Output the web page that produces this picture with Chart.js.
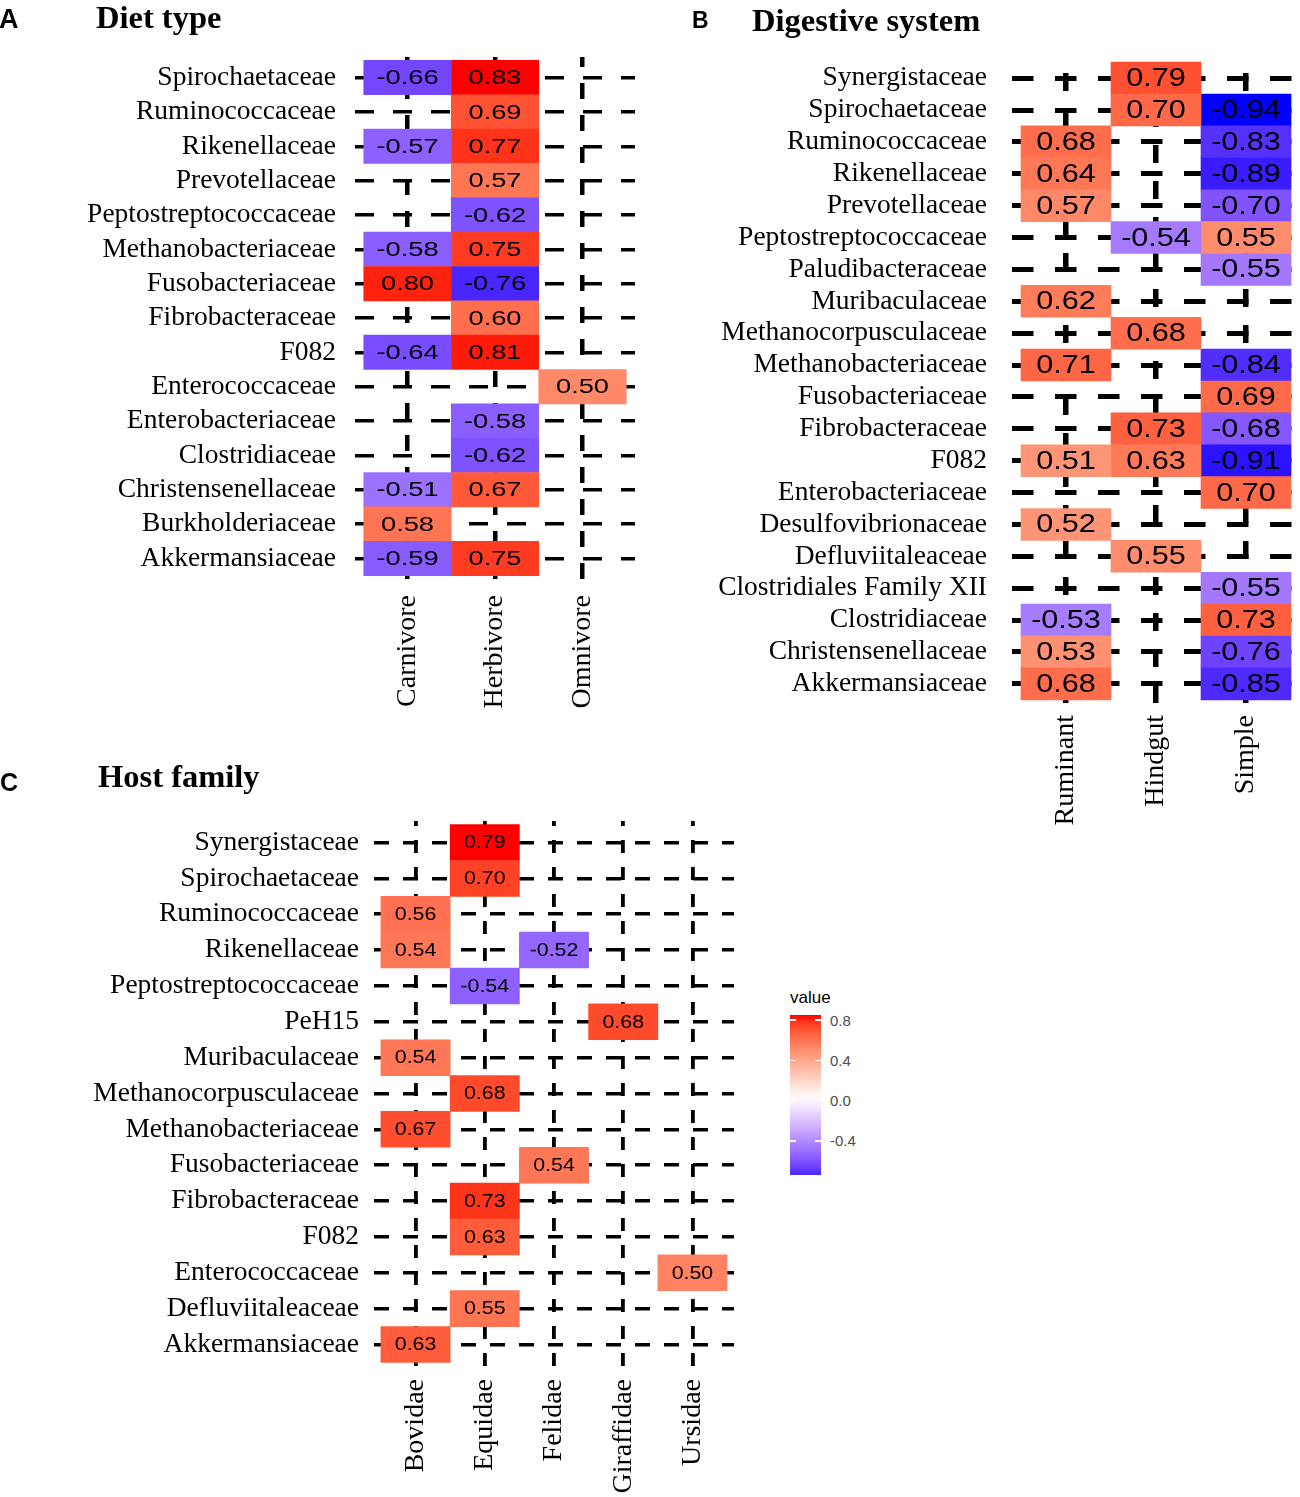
<!DOCTYPE html>
<html>
<head>
<meta charset="utf-8">
<script src="https://cdn.jsdelivr.net/npm/chart.js@4.4.1/dist/chart.umd.min.js"></script>
<style>
    body { margin: 0; background: #fff; width: 1300px; height: 1497px; position: relative; overflow: hidden; }
    canvas { position: absolute; }
    .tag { position: absolute; font-family: 'Liberation Sans', Arial, sans-serif; font-weight: bold; color: #000; }
    .ttl { position: absolute; font: bold 32.5px 'Liberation Serif', 'Times New Roman', serif; line-height: 32.5px; color: #000; white-space: nowrap; }
    .lg-title { position: absolute; font: 17px 'Liberation Sans', Arial, sans-serif; line-height: 17px; color: #000; }
    .lg-tick { position: absolute; font: 15px 'Liberation Sans', Arial, sans-serif; line-height: 15px; color: #4d4d4d; }
    .lg-mark { position: absolute; height: 1.5px; width: 6px; background: #fff; }
</style>
</head>
<body>
<canvas id="dietChart" width="650" height="720" style="left:0;top:0"></canvas>
<canvas id="digestChart" width="640" height="830" style="left:660px;top:0"></canvas>
<canvas id="hostChart" width="760" height="737" style="left:0;top:760px"></canvas>

<div class="tag" style="left:-1px;top:6px;font-size:27px;line-height:27px">A</div>
<div class="ttl" style="left:96px;top:1px">Diet type</div>
<div class="tag" style="left:692px;top:9px;font-size:23px;line-height:23px">B</div>
<div class="ttl" style="left:752px;top:4px">Digestive system</div>
<div class="tag" style="left:0;top:770px;font-size:25px;line-height:25px">C</div>
<div class="ttl" style="left:98px;top:760px">Host family</div>
<div id="legend"></div>

<script>
// ===== DATA: PANEL A (Diet type) =====
const dietRows = ['Spirochaetaceae', 'Ruminococcaceae', 'Rikenellaceae', 'Prevotellaceae',
    'Peptostreptococcaceae', 'Methanobacteriaceae', 'Fusobacteriaceae', 'Fibrobacteraceae',
    'F082', 'Enterococcaceae', 'Enterobacteriaceae', 'Clostridiaceae', 'Christensenellaceae',
    'Burkholderiaceae', 'Akkermansiaceae'];
const dietCols = ['Carnivore', 'Herbivore', 'Omnivore'];
const dietCarnivore = [-0.66, null, -0.57, null, null, -0.58, 0.80, null, -0.64, null, null, null, -0.51, 0.58, -0.59];
const dietHerbivore = [0.83, 0.69, 0.77, 0.57, -0.62, 0.75, -0.76, 0.60, 0.81, null, -0.58, -0.62, 0.67, null, 0.75];
const dietOmnivore = [null, null, null, null, null, null, null, null, null, 0.50, null, null, null, null, null];

// ===== DATA: PANEL B (Digestive system) =====
const digestRows = ['Synergistaceae', 'Spirochaetaceae', 'Ruminococcaceae', 'Rikenellaceae',
    'Prevotellaceae', 'Peptostreptococcaceae', 'Paludibacteraceae', 'Muribaculaceae',
    'Methanocorpusculaceae', 'Methanobacteriaceae', 'Fusobacteriaceae', 'Fibrobacteraceae',
    'F082', 'Enterobacteriaceae', 'Desulfovibrionaceae', 'Defluviitaleaceae',
    'Clostridiales Family XII', 'Clostridiaceae', 'Christensenellaceae', 'Akkermansiaceae'];
const digestCols = ['Ruminant', 'Hindgut', 'Simple'];
const digestRuminant = [null, null, 0.68, 0.64, 0.57, null, null, 0.62, null, 0.71, null, null, 0.51, null, 0.52, null, null, -0.53, 0.53, 0.68];
const digestHindgut = [0.79, 0.70, null, null, null, -0.54, null, null, 0.68, null, null, 0.73, 0.63, null, null, 0.55, null, null, null, null];
const digestSimple = [null, -0.94, -0.83, -0.89, -0.70, 0.55, -0.55, null, null, -0.84, 0.69, -0.68, -0.91, 0.70, null, null, -0.55, 0.73, -0.76, -0.85];

// ===== DATA: PANEL C (Host family) =====
const hostRows = ['Synergistaceae', 'Spirochaetaceae', 'Ruminococcaceae', 'Rikenellaceae',
    'Peptostreptococcaceae', 'PeH15', 'Muribaculaceae', 'Methanocorpusculaceae',
    'Methanobacteriaceae', 'Fusobacteriaceae', 'Fibrobacteraceae', 'F082',
    'Enterococcaceae', 'Defluviitaleaceae', 'Akkermansiaceae'];
const hostCols = ['Bovidae', 'Equidae', 'Felidae', 'Giraffidae', 'Ursidae'];
const hostBovidae = [null, null, 0.56, 0.54, null, null, 0.54, null, 0.67, null, null, null, null, null, 0.63];
const hostEquidae = [0.79, 0.70, null, null, -0.54, null, null, 0.68, null, null, 0.73, 0.63, null, 0.55, null];
const hostFelidae = [null, null, null, -0.52, null, null, null, null, null, 0.54, null, null, null, null, null];
const hostGiraffidae = [null, null, null, null, null, 0.68, null, null, null, null, null, null, null, null, null];
const hostUrsidae = [null, null, null, null, null, null, null, null, null, null, null, null, 0.50, null, null];

// ===== LEGEND =====
const legendTicks = [0.8, 0.4, 0.0, -0.4];

// ===== WARNA: gradien biru - putih - merah di ruang Lab =====
function toLin(c) { c /= 255; return c <= 0.04045 ? c / 12.92 : Math.pow((c + 0.055) / 1.055, 2.4); }
function rgbToLab(r, g, b) {
    const R = toLin(r), G = toLin(g), B = toLin(b);
    const X = (0.4124564 * R + 0.3575761 * G + 0.1804375 * B) / 0.95047;
    const Y = 0.2126729 * R + 0.7151522 * G + 0.0721750 * B;
    const Z = (0.0193339 * R + 0.1191920 * G + 0.9503041 * B) / 1.08883;
    const f = t => t > 0.008856 ? Math.cbrt(t) : 7.787 * t + 16 / 116;
    return [116 * f(Y) - 16, 500 * (f(X) - f(Y)), 200 * (f(Y) - f(Z))];
}
function labToRgb(L, a, b) {
    const fy = (L + 16) / 116, fx = fy + a / 500, fz = fy - b / 200;
    const inv = t => t * t * t > 0.008856 ? t * t * t : (t - 16 / 116) / 7.787;
    const X = 0.95047 * inv(fx), Y = inv(fy), Z = 1.08883 * inv(fz);
    const lin = [3.2404542 * X - 1.5371385 * Y - 0.4985314 * Z,
                 -0.9692660 * X + 1.8760108 * Y + 0.0415560 * Z,
                 0.0556434 * X - 0.2040259 * Y + 1.0572252 * Z];
    const out = lin.map(c => {
        c = c <= 0.0031308 ? 12.92 * c : 1.055 * Math.pow(c, 1 / 2.4) - 0.055;
        return Math.round(Math.min(1, Math.max(0, c)) * 255);
    });
    return `rgb(${out[0]}, ${out[1]}, ${out[2]})`;
}
const LAB_WHITE = rgbToLab(255, 255, 255);
const LAB_RED = rgbToLab(255, 0, 0);
const LAB_BLUE = rgbToLab(0, 0, 255);
// t = nilai / nilai absolut maksimum (-1 .. 1)
function fillColor(t) {
    const end = t < 0 ? LAB_BLUE : LAB_RED;
    const k = Math.min(1, Math.abs(t));
    return labToRgb(...LAB_WHITE.map((w, i) => w + (end[i] - w) * k));
}

// ===== PLUGIN: teks nilai di tengah sel =====
const cellLabels = {
    id: 'cellLabels',
    afterDatasetsDraw(chart, args, opts) {
        const ctx = chart.ctx;
        ctx.save();
        ctx.font = `${opts.size}px 'Liberation Sans', Arial, sans-serif`;
        ctx.fillStyle = '#000';
        ctx.textAlign = 'center';
        ctx.textBaseline = 'middle';
        chart.data.datasets.forEach((ds, di) => {
            chart.getDatasetMeta(di).data.forEach((bar, i) => {
                const p = bar.getCenterPoint();
                ctx.save();
                ctx.translate(p.x, p.y + 1);
                ctx.scale(opts.stretch, 1);
                ctx.fillText(ds.data[i].v.toFixed(2), 0, 0);
                ctx.restore();
            });
        });
        ctx.restore();
    }
};

// ===== FUNGSI HEATMAP =====
function buildHeatmap(canvasId, rows, cols, series, look) {
    const all = series.flat().filter(v => v !== null);
    const maxAbs = Math.max(...all.map(Math.abs));

    const datasets = series.map((vals, j) => ({
        data: vals.map((v, i) => v === null ? null : { x: [j - 0.5, j + 0.5], y: i, v: v }).filter(d => d),
        backgroundColor: c => c.raw ? fillColor(c.raw.v / maxAbs) : '#fff',
        borderWidth: 0,
        grouped: false,
        barPercentage: 1,
        categoryPercentage: 1
    }));

    const tickFamily = "'Liberation Serif', 'Times New Roman', serif";

    return new Chart(document.getElementById(canvasId), {
        type: 'bar',
        data: { datasets: datasets },
        plugins: [cellLabels],
        options: {
            indexAxis: 'y',
            responsive: false,
            animation: false,
            layout: { padding: look.pad },
            plugins: {
                legend: { display: false },
                tooltip: { enabled: false },
                cellLabels: { size: look.cellSize, stretch: look.stretch }
            },
            scales: {
                x: {
                    type: 'linear',
                    position: 'bottom',
                    offset: false,
                    min: -0.6,
                    max: cols.length - 0.4,
                    afterBuildTicks: s => { s.ticks = cols.map((_, j) => ({ value: j })); },
                    afterFit: s => { s.height = look.xHeight; },
                    ticks: {
                        callback: v => cols[v],
                        autoSkip: false,
                        minRotation: 90,
                        maxRotation: 90,
                        padding: look.xPad,
                        color: '#000',
                        font: { family: tickFamily, size: look.xTickSize }
                    },
                    grid: { color: '#000', lineWidth: look.vLw, drawTicks: false, offset: false },
                    border: {
                        display: false,
                        dash: look.vDash,
                        // garis vertikal dimulai dari bawah seperti ggplot
                        dashOffset: c => {
                            const a = c.chart.chartArea;
                            return a ? look.vDash[0] - (a.bottom - a.top) : 0;
                        }
                    }
                },
                y: {
                    type: 'linear',
                    reverse: true,
                    offset: false,
                    min: -0.6,
                    max: rows.length - 0.4,
                    afterBuildTicks: s => { s.ticks = rows.map((_, i) => ({ value: i })); },
                    afterFit: s => { s.width = look.yWidth; },
                    ticks: {
                        callback: v => rows[v],
                        autoSkip: false,
                        padding: look.yPad,
                        color: '#000',
                        font: { family: tickFamily, size: look.tickSize }
                    },
                    grid: { color: '#000', lineWidth: look.hLw, drawTicks: false, offset: false },
                    border: { display: false, dash: look.hDash }
                }
            }
        }
    });
}

buildHeatmap('dietChart', dietRows, dietCols, [dietCarnivore, dietHerbivore, dietOmnivore], {
    pad: { left: 0, top: 57, right: 15, bottom: 0 },
    yWidth: 355, xHeight: 141, yPad: 19, xPad: 16,
    tickSize: 27.5, xTickSize: 28, cellSize: 20.5, stretch: 1.33,
    hLw: 3.5, vLw: 4.5, hDash: [19, 19], vDash: [16, 16]
});

buildHeatmap('digestChart', digestRows, digestCols, [digestRuminant, digestHindgut, digestSimple], {
    pad: { left: 0, top: 59, right: 0, bottom: 0 },
    yWidth: 352, xHeight: 127, yPad: 25, xPad: 12,
    tickSize: 27.5, xTickSize: 28, cellSize: 25.5, stretch: 1.2,
    hLw: 5, vLw: 5.5, hDash: [21.5, 21.5], vDash: [18, 18]
});

buildHeatmap('hostChart', hostRows, hostCols, [hostBovidae, hostEquidae, hostFelidae, hostGiraffidae, hostUrsidae], {
    pad: { left: 0, top: 61, right: 26, bottom: 0 },
    yWidth: 374, xHeight: 131, yPad: 15, xPad: 13,
    tickSize: 27.5, xTickSize: 28, cellSize: 17.5, stretch: 1.22,
    hLw: 3.5, vLw: 3.8, hDash: [15, 14], vDash: [13, 14]
});

// ===== LEGEND WARNA (skala panel A) =====
(function drawLegend() {
    const all = [dietCarnivore, dietHerbivore, dietOmnivore].flat().filter(v => v !== null);
    const lo = Math.min(...all), hi = Math.max(...all);
    const maxAbs = Math.max(Math.abs(lo), Math.abs(hi));
    const top = 1015, height = 160, left = 790, width = 31;
    const stops = [];
    for (let k = 0; k <= 20; k++) {
        const v = hi - (hi - lo) * k / 20;
        stops.push(`${fillColor(v / maxAbs)} ${(k * 5)}%`);
    }
    const box = document.getElementById('legend');
    let html = `<div class="lg-title" style="left:${left}px;top:989px">value</div>`;
    html += `<div style="position:absolute;left:${left}px;top:${top}px;width:${width}px;height:${height}px;background:linear-gradient(to bottom, ${stops.join(', ')})"></div>`;
    legendTicks.forEach(t => {
        const y = top + (hi - t) / (hi - lo) * height + 2;
        html += `<div class="lg-mark" style="left:${left}px;top:${y - 0.75}px"></div>`;
        html += `<div class="lg-mark" style="left:${left + width - 6}px;top:${y - 0.75}px"></div>`;
        html += `<div class="lg-tick" style="left:${left + width + 9}px;top:${y - 7.5}px">${t.toFixed(1)}</div>`;
    });
    box.innerHTML = html;
})();
</script>
</body>
</html>
